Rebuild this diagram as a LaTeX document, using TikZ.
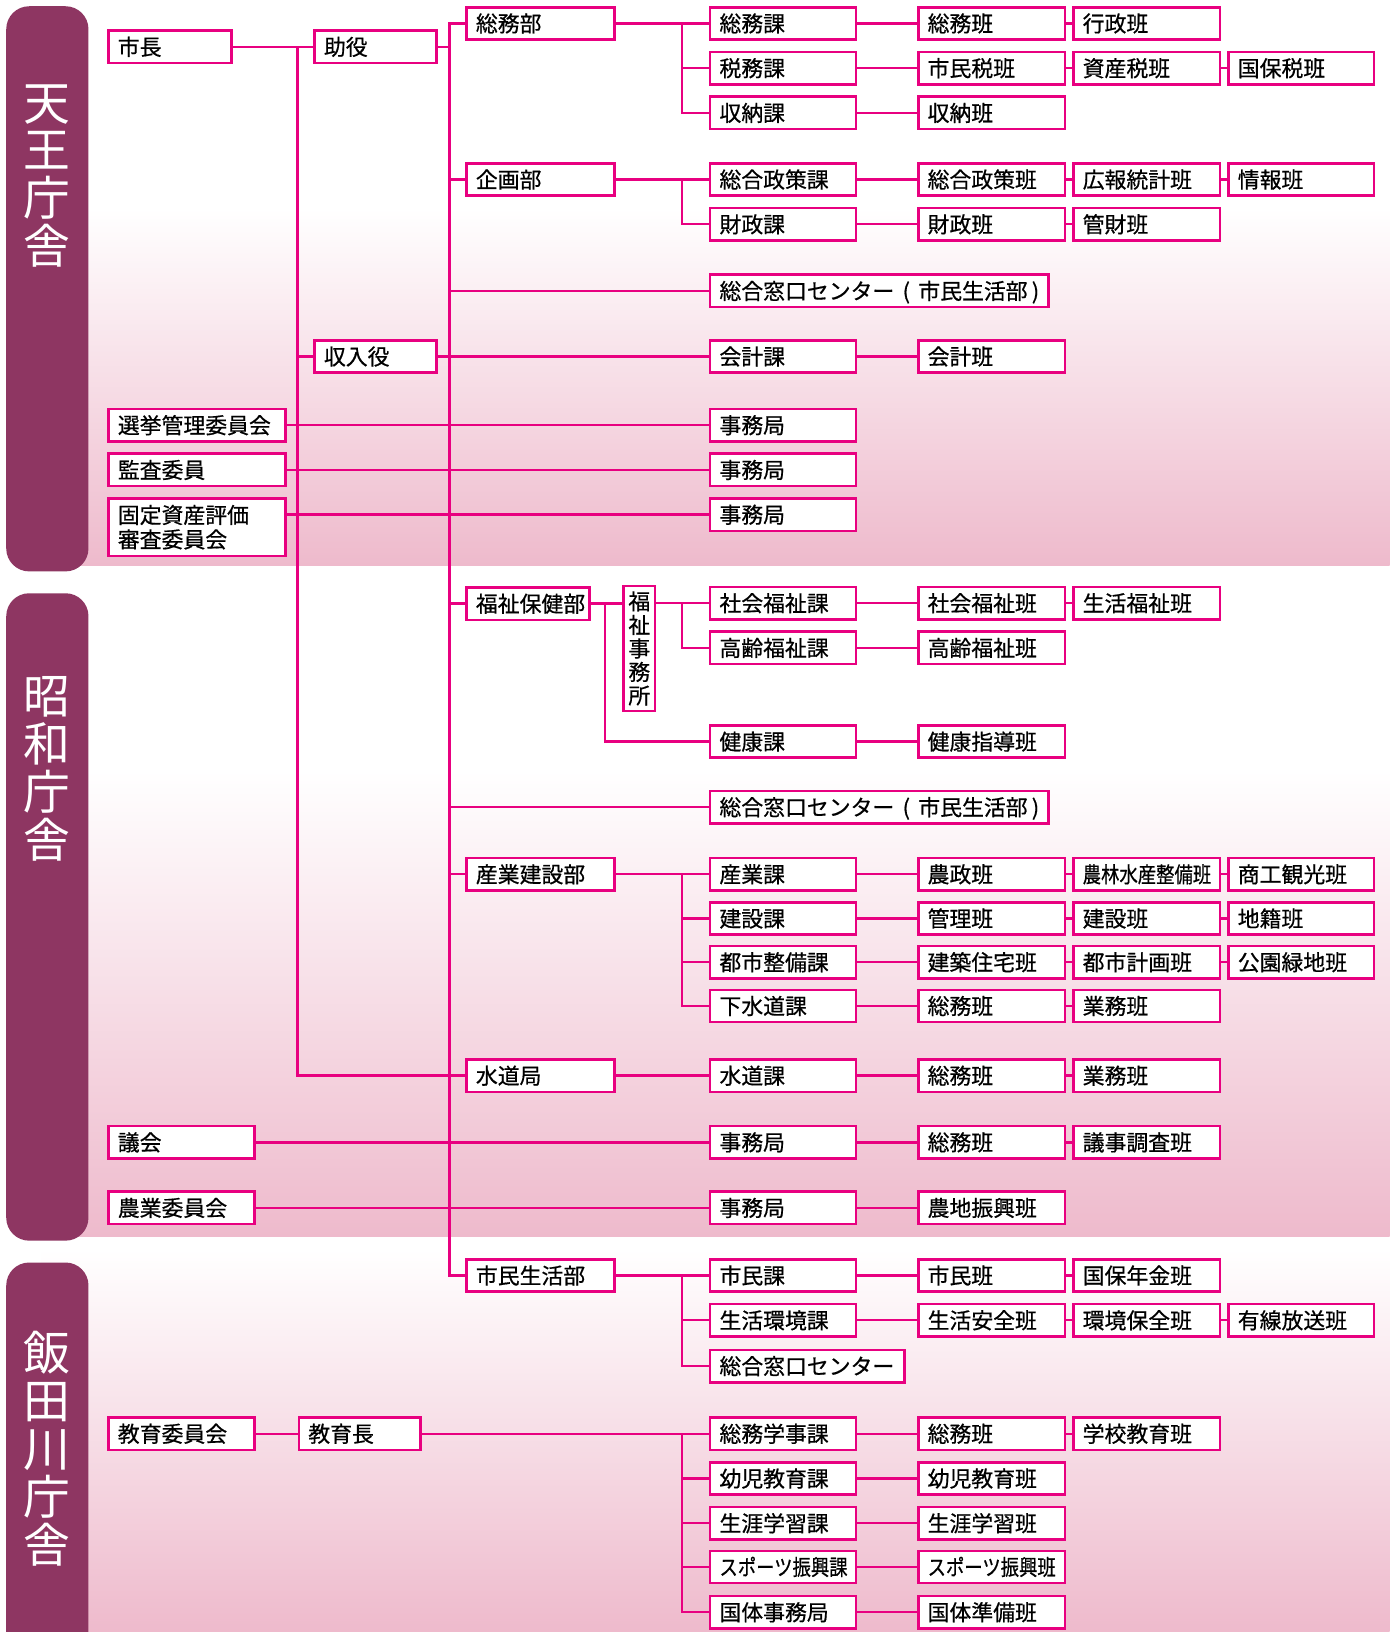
\documentclass[tikz,border=0pt]{standalone}
\usepackage{fontspec}
\usepackage{graphicx}
\setmainfont{Noto Sans CJK JP}
\newfontfamily\boxfont{Noto Sans CJK JP}[FakeBold=0.6]
\setlength{\parindent}{0pt}
\usetikzlibrary{calc}
\definecolor{mag}{RGB}{232,0,128}
\definecolor{tabc}{RGB}{142,54,98}
\definecolor{bandpk}{RGB}{238,186,204}
\newcommand\bx[5]{\node[bx, text width=#3pt] (#1) at (#2,#4) {\hspace*{9pt}#5};}
\newcommand\nar[1]{\scalebox{0.84}[1]{#1}}
\newcommand\madoc{総合窓口センター\hspace{8pt}(\hspace{8pt}市民生活部\hspace{4pt})}
\begin{document}
\begin{tikzpicture}[x=1pt,y=-1pt,
 bxbase/.style={draw=mag, line width=2.5pt, fill=white, anchor=west, inner xsep=0pt, inner ysep=0pt, align=left, font=\boxfont\fontsize{21}{23.5}\selectfont},
 bx/.style={bxbase, minimum height=31pt, text height=18.5pt, text depth=2.5pt},
 ln/.style={draw=mag, line width=2.3pt},
 tabbox/.style={fill=tabc, rounded corners=22pt},
 tabtxt/.style={text=white, align=center, font=\fontsize{45}{46}\selectfont, inner sep=0pt}]
\useasboundingbox (0,0) rectangle (1335,1568);
\fill[white] (0,0) rectangle (1335,1568);
% background bands
\shade[top color=white, bottom color=bandpk] (40,200) rectangle (1335,543);
\shade[top color=white, bottom color=bandpk] (40,740) rectangle (1335,1188);
\shade[top color=white, bottom color=bandpk] (40,1200) rectangle (1335,1568);
% building tabs
\fill[tabbox] (6,6) rectangle (85,549);
\fill[tabbox] (6,570) rectangle (85,1192);
\fill[tabbox] (6,1213) rectangle (85,1640);
\node[tabtxt] (t1) at (45,169) {天\\王\\庁\\舎};
\node[tabtxt] (t2) at (45,739) {昭\\和\\庁\\舎};
\node[tabtxt] (t3) at (45,1392) {飯\\田\\川\\庁\\舎};

% column 1
\bx{shicho}{103}{118}{45}{市長}
\bx{senkyo}{103}{170}{408.5}{選挙管理委員会}
\bx{kansa}{103}{170}{451.5}{監査委員}
\node[bxbase, text width=170pt, minimum height=55pt] (kotei) at (103,506.5) {\hspace*{9pt}固定資産評価\\\hspace*{9pt}審査委員会};
\bx{gikai}{103}{140}{1097.5}{議会}
\bx{nogyoi}{103}{140}{1160.5}{農業委員会}
\bx{kyoikui}{103}{140}{1377.5}{教育委員会}
% column 2
\bx{joyaku}{301}{117}{45}{助役}
\bx{shunyu}{301}{117}{342.5}{収入役}
\bx{kyoikucho}{286}{117}{1377.5}{教育長}
% column 3
\bx{somubu}{447}{142}{22.5}{総務部}
\bx{kikakubu}{447}{142}{172.5}{企画部}
\bx{fukubu}{447}{118}{580}{福祉保健部}
\bx{sangyobu}{447}{142}{840}{産業建設部}
\bx{suidokyoku}{447}{142}{1033.5}{水道局}
\bx{shiminbu}{447}{142}{1225.5}{市民生活部}
\node[bxbase, text width=30pt, align=center, minimum height=120pt, font=\boxfont\fontsize{21}{22.6}\selectfont] (fjim) at (598,623) {福\\祉\\事\\務\\所};
% column 4
\bx{somuka}{681}{140}{22.5}{総務課}
\bx{zeimuka}{681}{140}{65.5}{税務課}
\bx{shunoka}{681}{140}{108.5}{収納課}
\bx{seisakuka}{681}{140}{172.5}{総合政策課}
\bx{zaiseika}{681}{140}{215.5}{財政課}
\bx{mado1}{681}{325}{279.5}{\madoc}
\bx{kaikeika}{681}{140}{342.5}{会計課}
\bx{jim1}{681}{140}{408.5}{事務局}
\bx{jim2}{681}{140}{451.5}{事務局}
\bx{jim3}{681}{140}{494.5}{事務局}
\bx{shakaika}{681}{140}{579.5}{社会福祉課}
\bx{koreika}{681}{140}{622.5}{高齢福祉課}
\bx{kenkoka}{681}{140}{712.5}{健康課}
\bx{mado2}{681}{325}{775.5}{\madoc}
\bx{sangyoka}{681}{140}{840}{産業課}
\bx{kensetsuka}{681}{140}{882.5}{建設課}
\bx{toshika}{681}{140}{924.5}{都市整備課}
\bx{gesuika}{681}{140}{966.5}{下水道課}
\bx{suidoka}{681}{140}{1033.5}{水道課}
\bx{jim4}{681}{140}{1097.5}{事務局}
\bx{jim5}{681}{140}{1160.5}{事務局}
\bx{shiminka}{681}{140}{1225.5}{市民課}
\bx{kankyoka}{681}{140}{1268.5}{生活環境課}
\bx{mado3}{681}{187}{1312.5}{総合窓口センター}
\bx{gakujika}{681}{140}{1377.5}{総務学事課}
\bx{yojika}{681}{140}{1420.5}{幼児教育課}
\bx{shogaika}{681}{140}{1463.5}{生涯学習課}
\bx{sportsk}{681}{140}{1505.5}{\nar{スポーツ振興課}}
\bx{kokutaik}{681}{140}{1549}{国体事務局}
% column 5
\bx{somu5}{881}{141}{22.5}{総務班}
\bx{shiminzei5}{881}{141}{65.5}{市民税班}
\bx{shuno5}{881}{141}{108.5}{収納班}
\bx{seisaku5}{881}{141}{172.5}{総合政策班}
\bx{zaisei5}{881}{141}{215.5}{財政班}
\bx{kaikei5}{881}{141}{342.5}{会計班}
\bx{shakai5}{881}{141}{579.5}{社会福祉班}
\bx{korei5}{881}{141}{622.5}{高齢福祉班}
\bx{kenko5}{881}{141}{712.5}{健康指導班}
\bx{nosei5}{881}{141}{840}{農政班}
\bx{kanri5}{881}{141}{882.5}{管理班}
\bx{kenchiku5}{881}{141}{924.5}{建築住宅班}
\bx{gsomu5}{881}{141}{966.5}{総務班}
\bx{ssomu5}{881}{141}{1033.5}{総務班}
\bx{gisomu5}{881}{141}{1097.5}{総務班}
\bx{nochi5}{881}{141}{1160.5}{農地振興班}
\bx{shimin5}{881}{141}{1225.5}{市民班}
\bx{anzen5}{881}{141}{1268.5}{生活安全班}
\bx{esomu5}{881}{141}{1377.5}{総務班}
\bx{yoji5}{881}{141}{1420.5}{幼児教育班}
\bx{shogai5}{881}{141}{1463.5}{生涯学習班}
\bx{sports5}{881}{141}{1505.5}{\nar{スポーツ振興班}}
\bx{junbi5}{881}{141}{1549}{国体準備班}
% column 6
\bx{gyosei6}{1030}{141}{22.5}{行政班}
\bx{shisanzei6}{1030}{141}{65.5}{資産税班}
\bx{koho6}{1030}{141}{172.5}{広報統計班}
\bx{kanzai6}{1030}{141}{215.5}{管財班}
\bx{seikatsufuku6}{1030}{141}{579.5}{生活福祉班}
\bx{norin6}{1030}{141}{840}{\nar{農林水産整備班}}
\bx{kensetsu6}{1030}{141}{882.5}{建設班}
\bx{toshikei6}{1030}{141}{924.5}{都市計画班}
\bx{ggyomu6}{1030}{141}{966.5}{業務班}
\bx{sgyomu6}{1030}{141}{1033.5}{業務班}
\bx{giji6}{1030}{141}{1097.5}{議事調査班}
\bx{kokuho6}{1030}{141}{1225.5}{国保年金班}
\bx{hozen6}{1030}{141}{1268.5}{環境保全班}
\bx{gakko6}{1030}{141}{1377.5}{学校教育班}
% column 7
\bx{kokuhozei7}{1179}{140}{65.5}{国保税班}
\bx{joho7}{1179}{140}{172.5}{情報班}
\bx{shoko7}{1179}{140}{840}{商工観光班}
\bx{chiseki7}{1179}{140}{882.5}{地籍班}
\bx{koen7}{1179}{140}{924.5}{公園緑地班}
\bx{yusen7}{1179}{140}{1268.5}{有線放送班}

% trunk coordinates
\coordinate (tA) at (286,0);
\coordinate (tB) at (432,0);
\coordinate (tC) at (655,0);
\coordinate (tD) at (581,0);

% top-level connectors
\draw[ln] (shicho) -- (joyaku);
\draw[ln] (shicho.east -| tA) |- (suidokyoku.west);
\draw[ln] (shunyu.west -| tA) -- (shunyu.west);
\draw[ln] (joyaku.east) -- (joyaku.east -| tB);
\draw[ln] (somubu.west) -| (shiminbu.west -| tB) -- (shiminbu.west);
\foreach \n in {kikakubu, mado1, fukubu, mado2, sangyobu} \draw[ln] (\n.west) -- (\n.west -| tB);
\draw[ln] (shunyu) -- (kaikeika);
\draw[ln] (senkyo) -- (jim1);
\draw[ln] (kansa) -- (jim2);
\draw[ln] (jim3.west) -- (jim3.west -| kotei.east);
\draw[ln] (gikai) -- (jim4);
\draw[ln] (nogyoi) -- (jim5);
\draw[ln] (kyoikui) -- (kyoikucho);
\draw[ln] (kyoikucho) -- (gakujika);

% department trees
\draw[ln] (somubu) -- (somuka);
\draw[ln] (somuka.west -| tC) |- (shunoka.west);
\draw[ln] (zeimuka.west -| tC) -- (zeimuka.west);
\draw[ln] (kikakubu) -- (seisakuka);
\draw[ln] (seisakuka.west -| tC) |- (zaiseika.west);
\draw[ln] (fukubu.east) -- (fukubu.east -| fjim.west);
\draw[ln] (fukubu.east -| tD) |- (kenkoka.west);
\draw[ln] (shakaika.west) -- (shakaika.west -| fjim.east);
\draw[ln] (shakaika.west -| tC) |- (koreika.west);
\draw[ln] (sangyobu) -- (sangyoka);
\draw[ln] (sangyoka.west -| tC) |- (gesuika.west);
\draw[ln] (kensetsuka.west -| tC) -- (kensetsuka.west);
\draw[ln] (toshika.west -| tC) -- (toshika.west);
\draw[ln] (suidokyoku) -- (suidoka);
\draw[ln] (shiminbu) -- (shiminka);
\draw[ln] (shiminka.west -| tC) |- (mado3.west);
\draw[ln] (kankyoka.west -| tC) -- (kankyoka.west);
\draw[ln] (gakujika.west -| tC) |- (kokutaik.west);
\foreach \n in {yojika, shogaika, sportsk} \draw[ln] (\n.west -| tC) -- (\n.west);

% section-to-team chains
\draw[ln] (somuka) -- (somu5) -- (gyosei6);
\draw[ln] (zeimuka) -- (shiminzei5) -- (shisanzei6) -- (kokuhozei7);
\draw[ln] (shunoka) -- (shuno5);
\draw[ln] (seisakuka) -- (seisaku5) -- (koho6) -- (joho7);
\draw[ln] (zaiseika) -- (zaisei5) -- (kanzai6);
\draw[ln] (kaikeika) -- (kaikei5);
\draw[ln] (shakaika) -- (shakai5) -- (seikatsufuku6);
\draw[ln] (koreika) -- (korei5);
\draw[ln] (kenkoka) -- (kenko5);
\draw[ln] (sangyoka) -- (nosei5) -- (norin6) -- (shoko7);
\draw[ln] (kensetsuka) -- (kanri5) -- (kensetsu6) -- (chiseki7);
\draw[ln] (toshika) -- (kenchiku5) -- (toshikei6) -- (koen7);
\draw[ln] (gesuika) -- (gsomu5) -- (ggyomu6);
\draw[ln] (suidoka) -- (ssomu5) -- (sgyomu6);
\draw[ln] (jim4) -- (gisomu5) -- (giji6);
\draw[ln] (jim5) -- (nochi5);
\draw[ln] (shiminka) -- (shimin5) -- (kokuho6);
\draw[ln] (kankyoka) -- (anzen5) -- (hozen6) -- (yusen7);
\draw[ln] (gakujika) -- (esomu5) -- (gakko6);
\draw[ln] (yojika) -- (yoji5);
\draw[ln] (shogaika) -- (shogai5);
\draw[ln] (sportsk) -- (sports5);
\draw[ln] (kokutaik) -- (junbi5);
\end{tikzpicture}
\end{document}
